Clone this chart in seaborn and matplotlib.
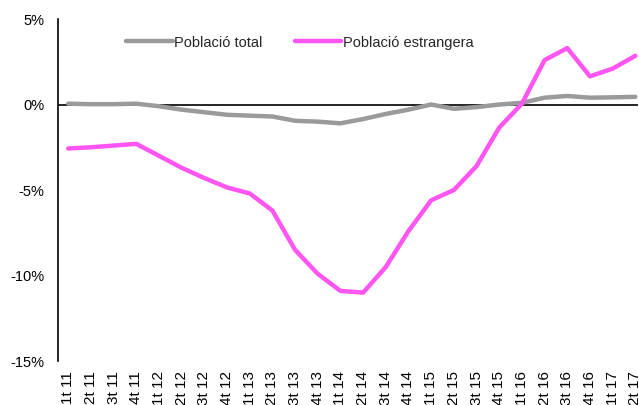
import matplotlib
matplotlib.use("Agg")
import matplotlib.pyplot as plt
import matplotlib.ticker as mtick
import seaborn as sns
import pandas as pd

# trimestres 2011-2017
periodes = ['1t 11', '2t 11', '3t 11', '4t 11',
            '1t 12', '2t 12', '3t 12', '4t 12',
            '1t 13', '2t 13', '3t 13', '4t 13',
            '1t 14', '2t 14', '3t 14', '4t 14',
            '1t 15', '2t 15', '3t 15', '4t 15',
            '1t 16', '2t 16', '3t 16', '4t 16',
            '1t 17', '2t 17']

# variacio interanual (%)
poblacio_total = [0.05, 0.02, 0.02, 0.05, -0.1, -0.3, -0.45, -0.6,
                  -0.65, -0.7, -0.95, -1.0, -1.1, -0.85, -0.55, -0.3,
                  0.0, -0.25, -0.15, 0.0, 0.1, 0.4, 0.5, 0.4,
                  0.42, 0.45]
poblacio_estrangera = [-2.57, -2.5, -2.4, -2.3, -3.0, -3.7, -4.3, -4.85,
                       -5.2, -6.2, -8.5, -9.9, -10.9, -11.0, -9.5, -7.4,
                       -5.6, -5.0, -3.6, -1.35, 0.05, 2.6, 3.3, 1.65,
                       2.1, 2.85]

df = pd.DataFrame({'periode': periodes,
                   'Població total': poblacio_total,
                   'Població estrangera': poblacio_estrangera})
df['pos'] = range(len(df))
long_df = df.melt(id_vars=['periode', 'pos'], var_name='serie', value_name='valor')

sns.set_style('white')
plt.rcParams['font.family'] = ['Liberation Sans', 'DejaVu Sans']

fig = plt.figure(figsize=(6.39, 4.05), dpi=100)
ax = fig.add_axes([0.0908, 0.1086, 0.907, 0.8444])

sns.lineplot(data=long_df, x='pos', y='valor', hue='serie', ax=ax,
             palette={'Població total': '#9a9a9a', 'Població estrangera': '#ff55f2'},
             linewidth=3.2, sort=False)

ax.axhline(0, color='black', linewidth=1.2, zorder=1)

ax.set_ylim(-15, 5)
ax.set_yticks([-15, -10, -5, 0, 5])
ax.yaxis.set_major_formatter(mtick.FuncFormatter(lambda v, p: f'{v:.0f}%'))
ax.set_xlim(-0.45, 25.1)
ax.set_xticks(df['pos'])
ax.set_xticklabels(periodes, rotation=90)
ax.tick_params(axis='both', labelsize=10.5, length=0, colors='black')
ax.tick_params(axis='x', pad=7, labelsize=11)
ax.tick_params(axis='y', pad=10)
ax.set_xlabel('')
ax.set_ylabel('')

for s in ['top', 'right', 'bottom']:
    ax.spines[s].set_visible(False)
ax.spines['left'].set_color('black')
ax.spines['left'].set_linewidth(1.2)

leg = ax.legend(loc='upper left', bbox_to_anchor=(0.095, 0.99), ncol=2, frameon=False,
                fontsize=10.5, handlelength=3.2, handletextpad=0.1, columnspacing=2.2)

fig.savefig('out.png', dpi=100)
